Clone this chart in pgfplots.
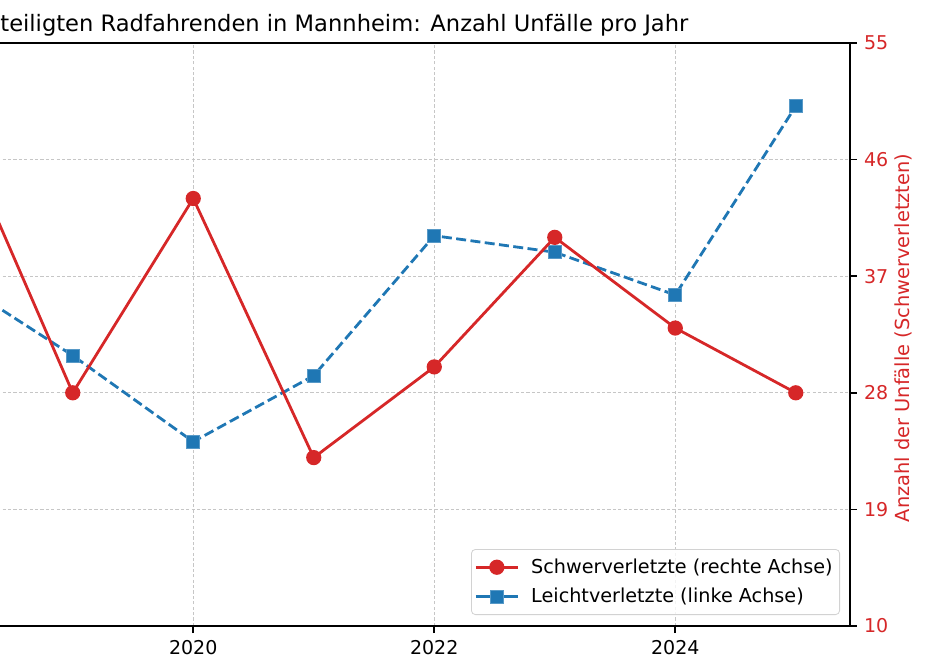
\documentclass[border=0pt]{standalone}
\usepackage{fontspec}
\setmainfont{DejaVu Sans}
\usepackage{pgfplots}
\pgfplotsset{compat=1.18}
\definecolor{tabred}{RGB}{214,39,40}
\definecolor{tabblue}{RGB}{31,119,180}
\begin{document}
\begin{tikzpicture}
\path[use as bounding box] (0,0) rectangle (463pt,335.5pt);
\begin{scope}
\clip (0,0) rectangle (463pt,335.5pt);
\pgfplotsset{
 common/.style={
  overlay,
  scale only axis, width=596.5pt, height=291.5pt,
  at={(-171.5pt,22.5pt)}, anchor=south west,
  xmin=2015.55, xmax=2025.45,
  /pgf/number format/assume math mode=true,
  tick label style={font=\fontsize{9.5}{11}\selectfont},
  tick align=outside, major tick length=3.5pt,
  every tick/.style={line width=0.8pt, black},
  axis line style={line width=0.8pt, black},
 }
}
\begin{axis}[common,
  xtick={2016,2018,...,2024},
  xticklabels={,,2020,2022,2024},
  xtick pos=bottom,
  ymin=120, ymax=300, ytick={120,156,...,300}, ytick pos=left,
  yticklabels={},
  grid=major,
  major grid style={gray!45, line width=0.5pt, dash pattern=on 1.6pt off 1.1pt},
]
\addplot[tabblue, line width=1.4pt, dash pattern=on 5pt off 2.2pt, mark=square*, mark size=3.2pt,
  mark options={solid, fill=tabblue, draw=tabblue!75!white, line width=0.4pt}] coordinates {
 (2016,200) (2017,215) (2018,227.5) (2019,203.5) (2020,176.9) (2021,197.3)
 (2022,240.5) (2023,235.4) (2024,222.2) (2025,280.5)};
\end{axis}
\begin{axis}[common,
  axis x line=none, axis y line*=right,
  ymin=10, ymax=55, ytick={10,19,...,55},
  yticklabel style={text=tabred},
  ylabel={Anzahl der Unfälle (Schwerverletzten)},
  ylabel style={text=tabred, font=\fontsize{9.7}{11}\selectfont, at={(axis description cs:1,0.5)}, anchor=center, yshift=-26.5pt, xshift=-1.75pt},
  legend style={at={(axis description cs:1,0)}, anchor=south east, xshift=-5pt, yshift=5.5pt,
    draw=gray!35, rounded corners=2pt, fill=white, fill opacity=0.8, text opacity=1,
    font=\fontsize{9.6}{11}\selectfont, row sep=2pt, inner xsep=1.5pt, inner ysep=2.5pt,
    /tikz/every odd column/.append style={column sep=4pt}},
  legend cell align=left,
  legend image code/.code={\draw[mark repeat=2, mark phase=2, fill opacity=1, draw opacity=1] plot coordinates {(0pt,0pt) (10.5pt,0pt) (21pt,0pt)};},
]
\addplot[tabred, line width=1.4pt, mark=*, mark size=3.1pt, mark options={solid, fill=tabred}] coordinates {
 (2016,36) (2017,31) (2018,49.4) (2019,28) (2020,43) (2021,23)
 (2022,30) (2023,40) (2024,33) (2025,28)};
\addlegendentry{Schwerverletzte (rechte Achse)}
\addlegendimage{tabblue, line width=1.4pt, dash pattern=on 7pt off 7pt, mark=square*, mark size=3.2pt,
  mark options={solid, fill=tabblue, draw=tabblue!75!white, line width=0.4pt}}
\addlegendentry{Leichtverletzte (linke Achse)}
\end{axis}
\node[overlay, anchor=base west, font=\fontsize{11.3}{13}\selectfont, inner sep=0pt] at (0pt,319.6pt) {teiligten Radfahrenden in Mannheim: Anzahl Unfälle pro Jahr};
\end{scope}
\end{tikzpicture}
\end{document}
